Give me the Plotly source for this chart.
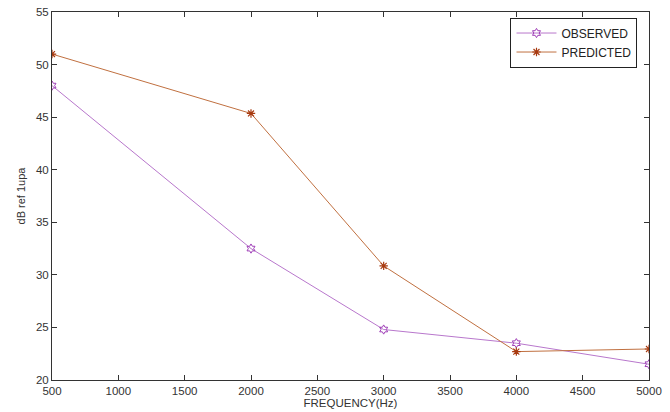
import plotly.graph_objects as go

freq = [500, 2000, 3000, 4000, 5000]
observed = [48.0, 32.5, 24.8, 23.5, 21.5]
predicted = [51.0, 45.35, 30.85, 22.7, 22.95]

x_ticks = [500, 1000, 1500, 2000, 2500, 3000, 3500, 4000, 4500, 5000]
y_ticks = [20, 25, 30, 35, 40, 45, 50, 55]

fig = go.Figure()
fig.add_trace(go.Scatter(
    x=freq, y=observed, name="OBSERVED", mode="lines+markers",
    line=dict(color="#b877cc", width=1),
    marker=dict(symbol="hexagram-open", size=7, color="#a040b8", line=dict(width=1, color="#a040b8")),
))
fig.add_trace(go.Scatter(
    x=freq, y=predicted, name="PREDICTED", mode="lines+markers",
    line=dict(color="#c07040", width=1),
    marker=dict(symbol="asterisk-open", size=7, color="#a83a10", line=dict(width=1.2, color="#a83a10")),
))

axis_font = dict(family="Liberation Sans, Arial, sans-serif", size=11.5, color="#333")
fig.update_layout(
    width=670, height=412,
    margin=dict(l=52, r=21, t=12, b=32),
    paper_bgcolor="white", plot_bgcolor="white",
    font=axis_font,
    showlegend=True,
    legend=dict(
        x=0.768, y=0.985, xanchor="left", yanchor="top",
        bordercolor="#222", borderwidth=1, bgcolor="white",
        font=dict(family="Liberation Sans, Arial, sans-serif", size=12, color="#222"),
        tracegroupgap=0, itemwidth=40,
    ),
    xaxis=dict(
        range=[500, 5000], tickvals=x_ticks, ticktext=[str(v) for v in x_ticks],
        showgrid=False, zeroline=False, showline=True, linecolor="#333", linewidth=1,
        mirror="ticks", ticks="inside", ticklen=5, tickcolor="#333", automargin=False,
        title=dict(text="FREQUENCY(Hz)", standoff=2, font=dict(size=11.5)),
        tickfont=axis_font,
    ),
    yaxis=dict(
        range=[20, 55], tickvals=y_ticks, ticktext=[str(v) for v in y_ticks],
        showgrid=False, zeroline=False, showline=True, linecolor="#333", linewidth=1,
        mirror="ticks", ticks="inside", ticklen=5, tickcolor="#333", automargin=False,
        title=dict(text="dB ref 1upa", standoff=8, font=dict(size=11)),
        tickfont=axis_font,
    ),
)

fig.write_html("out.html")
